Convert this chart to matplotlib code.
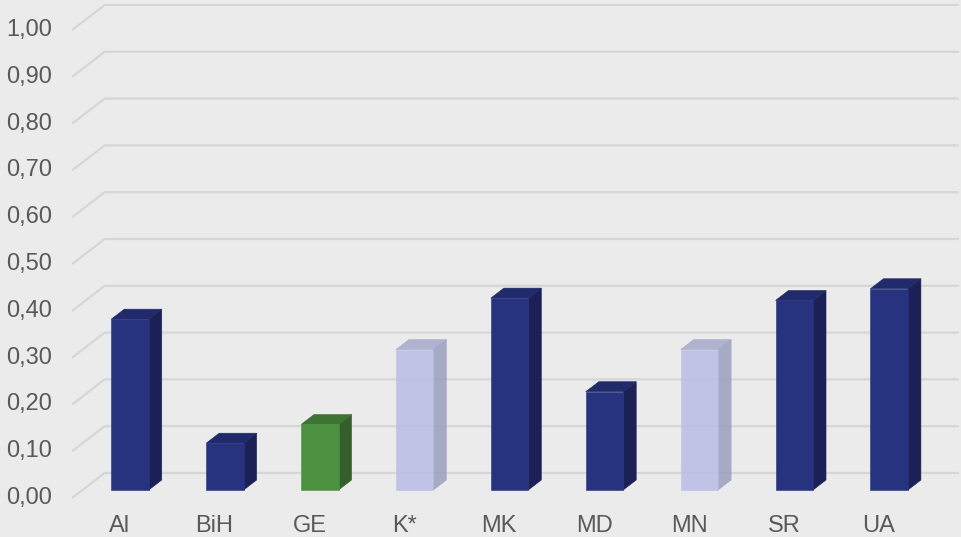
import matplotlib.pyplot as plt
from matplotlib.patches import Polygon

categories = ['Al', 'BiH', 'GE', 'K*', 'MK', 'MD', 'MN', 'SR', 'UA']
values = [0.365, 0.10, 0.14, 0.30, 0.41, 0.21, 0.30, 0.405, 0.43]
kinds = ['dark', 'dark', 'green', 'light', 'dark', 'dark', 'light', 'dark', 'dark']
yticks = [0.0, 0.1, 0.2, 0.3, 0.4, 0.5, 0.6, 0.7, 0.8, 0.9, 1.0]

# front / side / top colours
palette = {
    'dark': ('#27337f', '#1b2156', '#212a6a', 1.0),
    'green': ('#4b9140', '#345f2b', '#3d7333', 1.0),
    'light': ('#b9bde6', '#9c9fbf', '#a5a9cc', 0.85),
}

bg = '#ebebeb'
grid_c = '#d6d6d6'
text_c = '#595959'
plt.rcParams['font.family'] = ['Liberation Sans', 'DejaVu Sans']

# oblique offsets for one bar depth
dx, dy = 0.137, 0.0214
width = 0.395
front_d, back_d = -0.8, 1.7

fig = plt.figure(figsize=(9.61, 5.37), dpi=100)
fig.patch.set_facecolor(bg)
ax = fig.add_axes([0, 0, 1, 1])
ax.set_facecolor(bg)
ax.set_xlim(-1.370, 8.757)
ax.set_ylim(-0.1004, 1.047)
ax.axis('off')

n = len(categories)
left, right = -0.5, n - 0.5
for v in yticks:
    xs = [left + front_d * dx, left + back_d * dx, right + back_d * dx]
    ys = [v + front_d * dy, v + back_d * dy, v + back_d * dy]
    ax.plot(xs, ys, color=grid_c, lw=1.6, zorder=1, solid_capstyle='butt')
    ax.text(-0.822, v + front_d * dy, f'{v:.2f}'.replace('.', ','), ha='right',
            va='center', fontsize=17, color=text_c)

for i, (v, k) in enumerate(zip(values, kinds)):
    fc, sc, tc, a = palette[k]
    x0, x1 = i - width / 2, i + width / 2
    front = [(x0, 0), (x1, 0), (x1, v), (x0, v)]
    side = [(x1, 0), (x1 + dx, dy), (x1 + dx, v + dy), (x1, v)]
    top = [(x0, v), (x1, v), (x1 + dx, v + dy), (x0 + dx, v + dy)]
    for pts, c in [(side, sc), (top, tc), (front, fc)]:
        ax.add_patch(Polygon(pts, closed=True, facecolor=c, edgecolor=c,
                             lw=0.4, alpha=a, zorder=3))
    ax.text(i + front_d * dx, -0.077, categories[i], ha='center', va='center',
            fontsize=17, color=text_c)

fig.savefig('out.png', dpi=100, facecolor=bg)
